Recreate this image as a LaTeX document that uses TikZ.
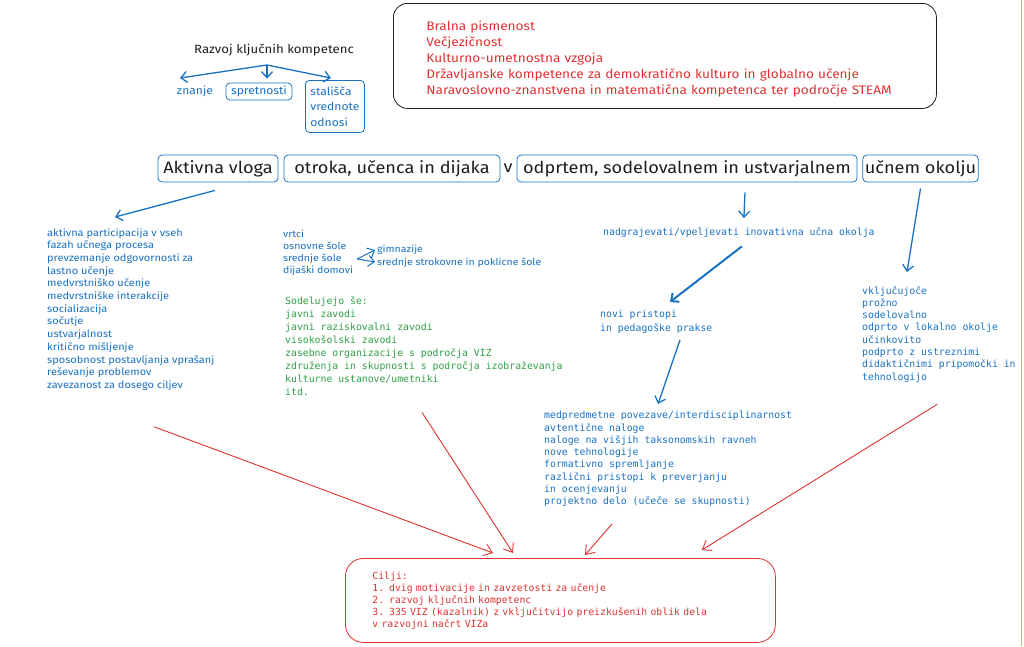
\documentclass[tikz,border=0pt]{standalone}
\usepackage{fontspec}
\setmainfont[FakeStretch=1.1]{Fira Sans}
\setmonofont{DejaVu Sans Mono}
\usepackage{xcolor}
\usetikzlibrary{arrows.meta,positioning}
\definecolor{xblue}{HTML}{1971C2}
\definecolor{xred}{HTML}{E03131}
\definecolor{xgreen}{HTML}{2F9E44}
\definecolor{xink}{HTML}{1E1E1E}
\definecolor{xedge}{HTML}{A9C47F}

\begin{document}
\begin{tikzpicture}[x=1pt, y=-1pt,
  hand/.style={anchor=north west, align=left, inner sep=0pt, text=xblue},
  code/.style={anchor=north west, align=left, inner sep=0pt, font=\ttfamily\fontsize{9.8}{12.3}\selectfont},
  kbox/.style={draw=xblue, thick, rounded corners=4pt, minimum height=27pt, inner xsep=2pt, font=\fontsize{16.5}{18}\selectfont, text=xink},
  sbox/.style={draw=xblue, thick, rounded corners=4pt, text=xblue, font=\fontsize{11}{15.5}\selectfont, align=left, inner sep=2pt},
  barrow/.style={-{Straight Barb[length=6pt,width=11pt]}, draw=xblue, line width=1.3pt},
  rarrow/.style={-{Straight Barb[length=8pt,width=12pt]}, draw=xred, line width=0.9pt}
]
  \useasboundingbox (0,0) rectangle (1024,646);
  \draw[xedge] (1021,0) -- (1021,646);

  % razvoj kljucnih kompetenc
  \node[text=xink, font=\fontsize{12}{14}\selectfont] (rk) at (274,50) {Razvoj ključnih kompetenc};
  \node[text=xblue, font=\fontsize{11}{14}\selectfont] (zn) at (195,91) {znanje};
  \node[sbox, minimum width=66pt, minimum height=17pt] (sp) at (259,91.5) {spretnosti};
  \node[sbox, anchor=north west, minimum width=59pt, minimum height=52pt] (sv) at (305,80) {stališča\\vrednote\\odnosi};
  \coordinate (rk0) at (267,65);
  \draw[barrow] (rk0) -- ([xshift=-15pt,yshift=4pt]zn.north);
  \draw[barrow] (rk0) -- ([xshift=8pt,yshift=4pt]sp.north);
  \draw[barrow] (rk0) -- ([xshift=-4pt,yshift=2pt]sv.north);

  % kljucne kompetence (rdece)
  \node[draw=xink, thick, rounded corners=14pt, anchor=north west, minimum width=543pt, minimum height=105pt,
        inner xsep=33pt, text width=477pt, align=left, text=xred, font=\fontsize{12.4}{16}\selectfont] (kk) at (393,3)
    {\rule{0pt}{16pt}Bralna pismenost\\Večjezičnost\\Kulturno-umetnostna vzgoja\\Državljanske kompetence za demokratično kulturo in globalno učenje\\Naravoslovno-znanstvena in matematična kompetenca ter področje STEAM};

  % glavna vrstica
  \node[kbox, minimum width=120pt] (b1) at (218,168.5) {Aktivna vloga};
  \node[kbox, minimum width=216pt] (b2) at (392,168.5) {otroka, učenca in dijaka};
  \node[text=xink, font=\fontsize{16.5}{18}\selectfont] (vv) at (508,168) {v};
  \node[kbox, minimum width=340pt] (b3) at (687,168.5) {odprtem, sodelovalnem in ustvarjalnem};
  \node[kbox, minimum width=113pt] (b4) at (920.5,168.5) {učnem okolju};

  % seznami
  \node[hand, font=\fontsize{10}{12.7}\selectfont] (al) at (47,228)
    {aktivna participacija v vseh\\fazah učnega procesa\\prevzemanje odgovornosti za\\lastno učenje\\medvrstniško učenje\\medvrstniške interakcije\\socializacija\\sočutje\\ustvarjalnost\\kritično mišljenje\\sposobnost postavljanja vprašanj\\reševanje problemov\\zavezanost za dosego ciljev};
  \node[hand, font=\fontsize{9.6}{12}\selectfont] (vr) at (283,230)
    {vrtci\\osnovne šole\\srednje šole\\dijaški domovi};
  \node[hand, font=\fontsize{9.6}{12.5}\selectfont] (gm) at (377,245)
    {gimnazije\\srednje strokovne in poklicne šole};
  \draw[barrow, line width=1pt] ([xshift=4pt,yshift=-6pt]vr.east) -- ([xshift=-2pt,yshift=-5pt]gm.north west);
  \draw[barrow, line width=1pt] ([xshift=4pt,yshift=-6pt]vr.east) -- ([xshift=-2pt,yshift=-17pt]gm.north west);
  \node[code, text=xgreen, font=\ttfamily\fontsize{9.8}{13}\selectfont] (gr) at (285,296)
    {Sodelujejo še:\\javni zavodi\\javni raziskovalni zavodi\\visokošolski zavodi\\zasebne organizacije s področja VIZ\\združenja in skupnosti s področja izobraževanja\\kulturne ustanove/umetniki\\itd.};
  \node[code, text=xblue] (n1) at (603,227) {nadgrajevati/vpeljevati inovativna učna okolja};
  \node[code, text=xblue, font=\ttfamily\fontsize{9.8}{14}\selectfont] (p1) at (600,310) {novi pristopi\\in pedagoške prakse};
  \node[code, text=xblue] (r1) at (862,286)
    {vključujoče\\prožno\\sodelovalno\\odprto v lokalno okolje\\učinkovito\\podprto z ustreznimi\\didaktičnimi pripomočki in\\tehnologijo};
  \node[code, text=xblue] (m1) at (544,411)
    {medpredmetne povezave/interdisciplinarnost\\avtentične naloge\\naloge na višjih taksonomskih ravneh\\nove tehnologije\\formativno spremljanje\\različni pristopi k preverjanju\\in ocenjevanju\\projektno delo (učeče se skupnosti)};

  % cilji
  \node[draw=xred, thick, rounded corners=18pt, anchor=north west, minimum width=430pt, minimum height=84pt,
        inner xsep=27pt, text width=376pt, align=left, text=xred, font=\ttfamily\fontsize{9.8}{12}\selectfont] (g) at (345,558)
    {Cilji:\\1. dvig motivacije in zavzetosti za učenje\\2. razvoj ključnih kompetenc\\3. 335 VIZ (kazalnik) z vključitvijo preizkušenih oblik dela\\v razvojni načrt VIZa};

  % puscice
  \draw[barrow] ([xshift=-3pt,yshift=-8pt]b1.south) -- ([xshift=68pt,yshift=11pt]al.north west);
  \draw[barrow] ([xshift=58pt,yshift=-10pt]b3.south) -- ([xshift=5pt,yshift=9pt]n1.north);
  \draw[barrow] ([yshift=-6pt]b4.south) -- ([xshift=45pt,yshift=14pt]r1.north west);
  \draw[barrow, line width=2pt] ([xshift=3pt,yshift=-9pt]n1.south) -- ([xshift=70pt,yshift=8pt]p1.north west);
  \draw[barrow] ([xshift=80pt,yshift=-6pt]p1.south west) -- ([xshift=114pt,yshift=7pt]m1.north west);

  \draw[rarrow] ([xshift=107pt,yshift=-36pt]al.south west) -- ([xshift=148pt,yshift=5pt]g.north west);
  \draw[rarrow] ([xshift=137pt,yshift=-17pt]gr.south west) -- ([xshift=168pt,yshift=5pt]g.north west);
  \draw[rarrow] ([xshift=68pt,yshift=-17pt]m1.south west) -- ([xshift=240pt,yshift=3pt]g.north west);
  \draw[rarrow] ([xshift=75pt,yshift=-22pt]r1.south west) -- ([xshift=-74pt,yshift=8pt]g.north east);
\end{tikzpicture}
\end{document}
